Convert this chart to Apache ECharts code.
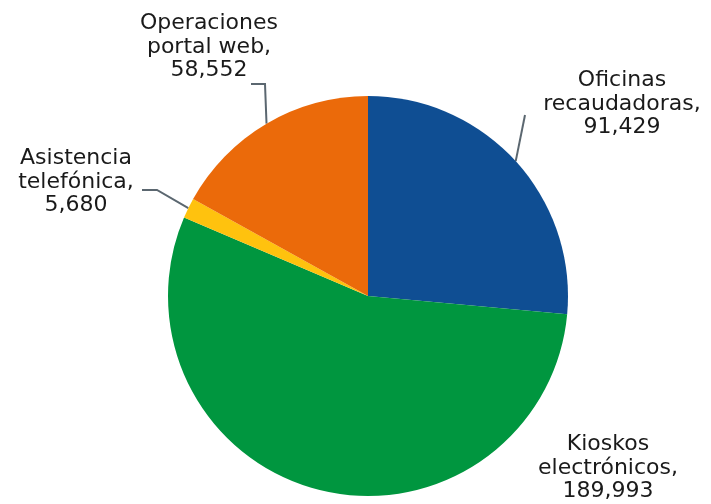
<!DOCTYPE html>
<html>
<head>
<meta charset="utf-8">
<script src="https://cdn.jsdelivr.net/npm/echarts@6/dist/echarts.min.js"></script>
<style>
  html, body { margin: 0; padding: 0; background: #fff; }
  #chart { width: 711px; height: 504px; }
</style>
</head>
<body>
<div id="chart"></div>
<script>
// datos del gráfico
const categories = ['Oficinas\nrecaudadoras', 'Kioskos\nelectrónicos', 'Asistencia\ntelefónica', 'Operaciones\nportal web'];
const values = [91429, 189993, 5680, 58552];
const colors = ['#0F4E93', '#00963F', '#FFC20E', '#EB6A0A'];

// posición de cada etiqueta (centro del bloque de texto) y quiebres de la línea guía
const labelPos = [[622, 104], [608, 468], [76, 182], [209, 47]];
const leaderBends = [
  [[525, 115], [525, 115]],
  null,
  [[157, 190], [142, 190]],
  [[265, 84], [251, 84]]
];

const chart = echarts.init(document.getElementById('chart'));

const pieData = categories.map((name, i) => ({
  name: name,
  value: values[i],
  itemStyle: { color: colors[i] },
  labelLine: { show: i !== 1 }
}));

chart.setOption({
  animation: false,
  series: [
    {
      type: 'pie',
      center: [368, 296],
      radius: 200,
      startAngle: 90,
      clockwise: true,
      data: pieData,
      label: {
        show: true,
        position: 'outside',
        formatter: p => p.name + ',\n' + p.value.toLocaleString('en-US'),
        fontFamily: 'DejaVu Sans',
        fontSize: 22,
        lineHeight: 23.5,
        color: '#1a1a1a',
        align: 'center'
      },
      labelLine: {
        show: true,
        length: 10,
        length2: 10,
        lineStyle: { color: '#5B6770', width: 2 }
      },
      labelLayout: function (params) {
        const i = params.dataIndex;
        const pos = labelPos[i];
        const out = {
          x: pos[0],
          y: pos[1],
          align: 'center',
          verticalAlign: 'middle'
        };
        if (leaderBends[i] && params.labelLinePoints) {
          out.labelLinePoints = [params.labelLinePoints[0]].concat(leaderBends[i]);
        }
        return out;
      }
    }
  ]
});
</script>
</body>
</html>
